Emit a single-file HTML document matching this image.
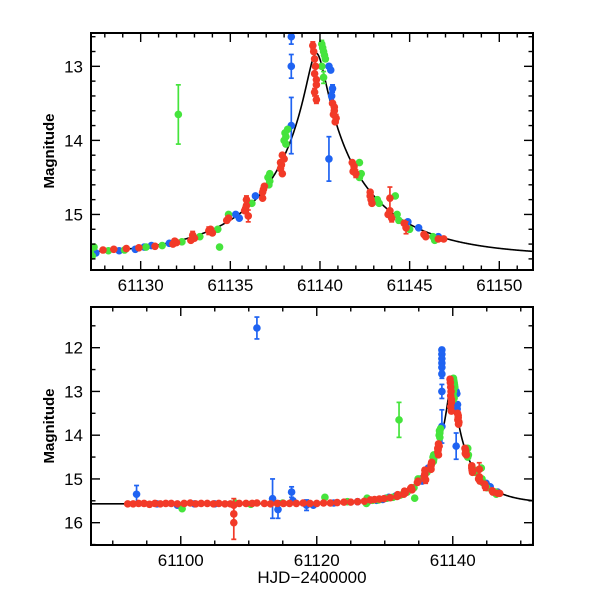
<!DOCTYPE html>
<html><head><meta charset="utf-8"><style>
body{margin:0;background:#fff}
svg{display:block}
text{font-family:"Liberation Sans",sans-serif;font-size:17px;fill:#000}
</style></head><body>
<svg id="chart" width="600" height="600" viewBox="0 0 600 600" xmlns="http://www.w3.org/2000/svg">
<defs>
<clipPath id="clipTop"><rect x="91" y="33" width="442" height="237"/></clipPath>
<clipPath id="clipBot"><rect x="91" y="307" width="442" height="238"/></clipPath>
</defs>
<g id="topPanel"></g>
<g id="botPanel"></g>
<text transform="translate(54,151) rotate(-90)" text-anchor="middle" font-weight="bold" style="font-size:15px">Magnitude</text>
<text transform="translate(54,426) rotate(-90)" text-anchor="middle" font-weight="bold" style="font-size:15px">Magnitude</text>
<text x="312" y="583" text-anchor="middle" style="font-size:17px">HJD−2400000</text>
</svg>
<script>
// ---- data ----
const redT=[61127.9,61128.5,61129.2,61129.9,61130.8,61131.8,61131.9,61132.0,61132.8,61132.9,61133.0,61133.8,61133.9,61134.0,61134.8,61134.9,61135.8,61135.9,61136.0,61135.9,61136.8,61136.9,61136.8,61137.8,61137.9,61137.8,61137.9,61138.0,61139.6,61139.7,61139.7,61139.8,61139.7,61139.8,61140.7,61140.8,61140.9,61140.8,61141.8,61141.9,61142.0,61141.9,61142.8,61142.9,61142.8,61143.8,61143.9,61143.9,61144.0,61144.7,61144.8,61145.8,61145.9,61146.6,61146.9,
61139.65,61139.75,61139.8,61140.75,61140.85,61136.85,61137.85,61135.85,61142.85,61141.85,
61092.2,61093.0,61093.8,61094.6,61095.4,61096.2,61097.0,61097.8,61098.6,61099.5,61100.5,61101.4,61102.2,61103.0,61103.9,61104.8,61105.6,61106.5,61107.3,61107.8,61107.8,61107.8,61108.6,61109.6,61110.5,61111.2,61112.3,61113.2,61114.2,61115.1,61116.0,61117.0,61118.0,61119.0,61120.0,61121.0,61122.0,61123.0,61124.0,61125.0,61126.0,61127.0];
const redM=[15.48,15.47,15.46,15.45,15.43,15.40,15.36,15.38,15.35,15.28,15.32,15.22,15.20,15.25,15.08,15.05,14.95,14.88,15.02,14.80,14.70,14.62,14.78,14.30,14.20,14.38,14.45,14.25,12.72,12.90,13.10,13.25,13.35,13.45,13.50,13.60,13.70,13.55,14.30,14.40,14.45,14.35,14.75,14.85,14.70,15.00,14.95,14.78,15.05,15.12,15.18,15.27,15.30,15.33,15.33,
12.80,13.00,13.18,13.65,13.75,14.66,14.33,14.92,14.80,14.42,
15.57,15.57,15.56,15.56,15.58,15.56,15.57,15.56,15.56,15.57,15.56,15.55,15.57,15.56,15.56,15.57,15.56,15.57,15.57,15.60,15.80,16.00,15.56,15.56,15.56,15.55,15.56,15.57,15.56,15.56,15.56,15.56,15.55,15.56,15.56,15.55,15.55,15.54,15.53,15.53,15.52,15.51];
const redE=[0.02,0.02,0.02,0.02,0.02,0.02,0.03,0.03,0.03,0.05,0.03,0.05,0.03,0.03,0.03,0.03,0.03,0.03,0.08,0.05,0.03,0.03,0.03,0.03,0.03,0.03,0.03,0.03,0.05,0.03,0.03,0.03,0.05,0.05,0.03,0.03,0.05,0.03,0.03,0.03,0.05,0.03,0.03,0.03,0.03,0.03,0.03,0.15,0.05,0.03,0.08,0.03,0.03,0.03,0.02,
0.03,0.03,0.03,0.03,0.03,0.03,0.03,0.03,0.03,0.03,
0.02,0.02,0.02,0.02,0.05,0.02,0.02,0.02,0.02,0.02,0.02,0.02,0.02,0.02,0.02,0.02,0.02,0.02,0.02,0.15,0.05,0.38,0.02,0.02,0.02,0.02,0.02,0.02,0.02,0.02,0.02,0.02,0.02,0.02,0.02,0.02,0.02,0.02,0.02,0.02,0.02,0.02];

const greenT=[61127.2,61127.3,61128.2,61129.1,61130.3,61131.2,61132.1,61132.3,61133.3,61134.3,61134.4,61134.9,61136.2,61137.1,61137.2,61137.2,61138.0,61138.1,61138.2,61138.1,61140.1,61140.2,61140.3,61140.1,61140.2,61142.2,61142.3,61142.2,61143.2,61143.3,61144.2,61144.3,61144.4,61145.0,61146.3,61146.4,61100.2,61110.3,61115.0,61121.2,61127.4,61108.0,61124.5,61140.15,61140.25,61138.05,61137.15];
const greenM=[15.52,15.56,15.49,15.48,15.44,15.42,13.65,15.37,15.30,15.20,15.44,15.00,14.85,14.50,14.55,14.45,14.00,13.95,13.85,14.05,12.70,12.80,12.90,13.00,13.15,14.30,14.45,14.50,14.80,14.85,14.75,15.00,15.08,15.20,15.30,15.35,15.68,15.58,15.55,15.42,15.44,15.55,15.52,12.75,12.85,13.90,14.60];
const greenE=[0.02,0.02,0.02,0.02,0.02,0.02,0.40,0.03,0.03,0.03,0.03,0.03,0.03,0.03,0.03,0.03,0.03,0.03,0.03,0.03,0.05,0.05,0.03,0.03,0.08,0.03,0.03,0.03,0.03,0.03,0.03,0.03,0.03,0.03,0.03,0.03,0.02,0.02,0.02,0.02,0.02,0.02,0.02,0.03,0.03,0.03,0.03];

const blueT=[61127.5,61128.8,61129.7,61130.6,61131.6,61135.3,61135.5,61136.4,61138.4,61138.4,61138.4,61138.4,61138.4,61138.4,61138.4,61138.4,61140.5,61140.6,61140.7,61140.65,61140.5,61144.9,61145.5,61146.6,61093.5,61096.5,61099.5,61102.0,61105.0,61111.2,61113.5,61114.3,61116.3,61116.5,61118.5,61119.5,61122.5,61126.0,61130.2];
const blueM=[15.52,15.49,15.47,15.42,15.39,15.00,15.05,14.75,12.05,12.15,12.25,12.35,12.45,12.60,13.00,13.80,13.00,13.05,13.30,13.40,14.25,15.10,15.18,15.30,15.35,15.57,15.60,15.57,15.57,11.55,15.45,15.70,15.30,15.50,15.60,15.60,15.55,15.52,15.44];
const blueE=[0.02,0.02,0.02,0.02,0.02,0.03,0.03,0.02,0.05,0.05,0.05,0.05,0.08,0.10,0.16,0.38,0.03,0.03,0.05,0.05,0.30,0.02,0.02,0.02,0.20,0.02,0.02,0.02,0.02,0.25,0.45,0.20,0.12,0.05,0.12,0.03,0.02,0.02,0.02];

const topXTicks=[61130,61135,61140,61145,61150];
const topYTicks=[13,14,15];
const botXTicks=[61100,61120,61140];
const botYTicks=[12,13,14,15,16];
// model parameters (point-lens fit)
const modelT0=61139.8, modelTE=6.3, modelU0=0.08, modelBase=15.57;

const NS='http://www.w3.org/2000/svg';
function mk(tag,attrs,parent){const e=document.createElementNS(NS,tag);for(const k in attrs)e.setAttribute(k,attrs[k]);parent.appendChild(e);return e;}
function model(t){const tau=(t-modelT0)/modelTE;const u=Math.sqrt(modelU0*modelU0+tau*tau);const A=(u*u+2)/(u*Math.sqrt(u*u+4));return modelBase-2.5*Math.log10(A);}

function panel(g,cfg){
  const X=t=>cfg.x0+(t-cfg.t0)/(cfg.t1-cfg.t0)*(cfg.x1-cfg.x0);
  const Y=m=>cfg.y0+(m-cfg.m0)/(cfg.m1-cfg.m0)*(cfg.y1-cfg.y0);
  const data=mk('g',{'clip-path':'url(#'+cfg.clip+')'},g);
  
  
  let d='';for(let i=0;i<=900;i++){const t=cfg.t0+(cfg.t1-cfg.t0)*i/900;d+=(i?'L':'M')+X(t).toFixed(2)+','+Y(model(t)).toFixed(2);}
  const p=mk('path',{d:d,fill:'none',stroke:'#000','stroke-width':1.6},data);
  
  
  const series=[['blue',blueT,blueM,blueE,'#1f63f2'],['green',greenT,greenM,greenE,'#45e43c'],['red',redT,redM,redE,'#f23a28']];
  for(const [nm,T,M,E,col] of series){
    const sg=mk('g',{fill:col,stroke:col},data);
    
    
    for(let i=0;i<T.length;i++){
      const x=X(T[i]),y=Y(M[i]);
      if(E[i]>0.03){const ya=Y(M[i]-E[i]),yb=Y(M[i]+E[i]);
        mk('line',{x1:x,x2:x,y1:ya,y2:yb,'stroke-width':1.7},sg);
        mk('line',{x1:x-2.5,x2:x+2.5,y1:ya,y2:ya,'stroke-width':1.7},sg);
        mk('line',{x1:x-2.5,x2:x+2.5,y1:yb,y2:yb,'stroke-width':1.7},sg);}
      const c=mk('circle',{cx:x,cy:y,r:3.8,stroke:'none'},sg);
      
      
    }
  }
  const ax=mk('g',{stroke:'#000','stroke-width':1.4},g);
  
  
  for(let t=Math.ceil(cfg.t0/cfg.xmin)*cfg.xmin;t<=cfg.t1;t+=cfg.xmin){
    const maj=Math.abs(t/cfg.xmaj-Math.round(t/cfg.xmaj))<1e-6;const L=maj?9:4.5;const x=X(t);
    mk('line',{x1:x,x2:x,y1:cfg.y1,y2:cfg.y1-L},ax);mk('line',{x1:x,x2:x,y1:cfg.y0,y2:cfg.y0+L},ax);}
  for(let m=Math.ceil(cfg.m0/cfg.ymin-1e-6)*cfg.ymin;m<=cfg.m1+1e-6;m+=cfg.ymin){
    const maj=Math.abs(m-Math.round(m))<1e-6;const L=maj?9:4.5;const y=Y(m);
    mk('line',{x1:cfg.x0,x2:cfg.x0+L,y1:y,y2:y},ax);mk('line',{x1:cfg.x1,x2:cfg.x1-L,y1:y,y2:y},ax);}
  const fr=mk('rect',{x:cfg.x0,y:cfg.y0,width:cfg.x1-cfg.x0,height:cfg.y1-cfg.y0,fill:'none','stroke-width':2},ax);
  
  
  for(const t of cfg.xt){const tx=mk('text',{x:X(t),y:cfg.y1+21,'text-anchor':'middle'},g);tx.textContent=t;
    
    }
  for(const m of cfg.yt){const tx=mk('text',{x:cfg.x0-8,y:Y(m)+6,'text-anchor':'end'},g);tx.textContent=m;
    
    }
}
panel(document.getElementById('topPanel'),{x0:91,x1:533,y0:33,y1:270,t0:61127.23,t1:61151.88,m0:12.55,m1:15.75,xmin:1,xmaj:5,ymin:0.2,xt:topXTicks,yt:topYTicks,clip:'clipTop'});
panel(document.getElementById('botPanel'),{x0:91,x1:533,y0:307,y1:545,t0:61086.8,t1:61151.8,m0:11.07,m1:16.51,xmin:5,xmaj:20,ymin:0.5,xt:botXTicks,yt:botYTicks,clip:'clipBot'});
</script>
</body></html>
